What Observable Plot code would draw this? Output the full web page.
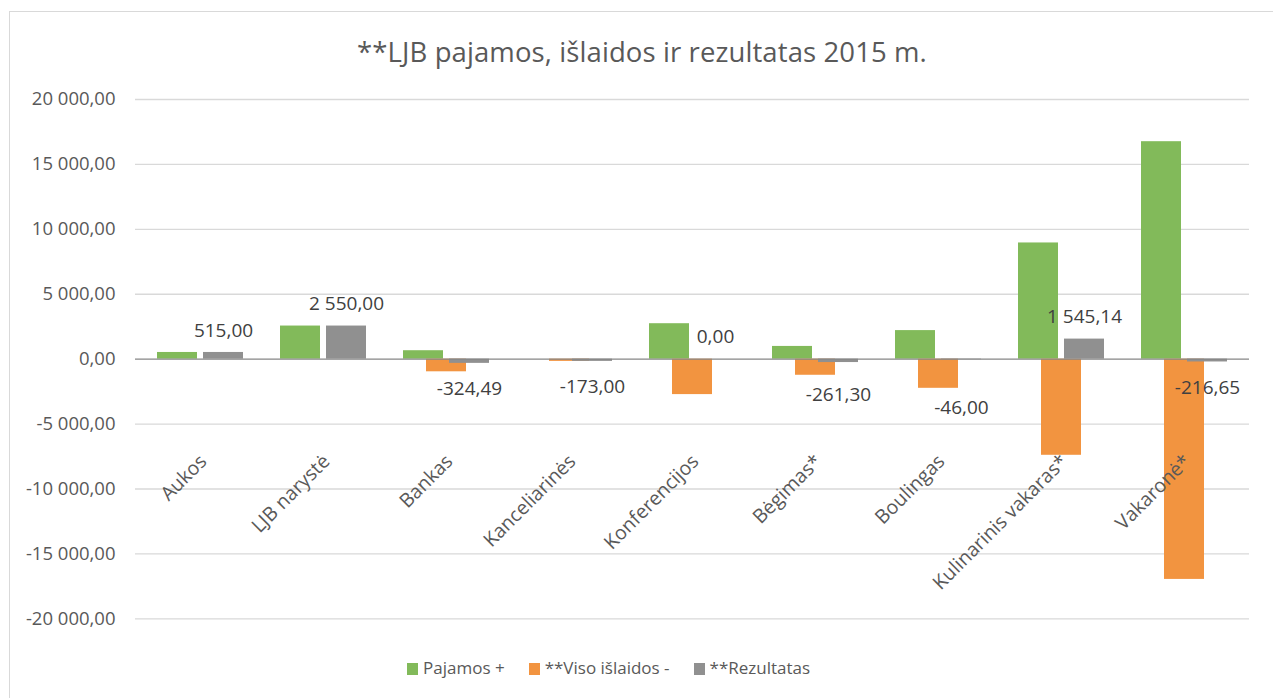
<!DOCTYPE html>
<html>
<head>
<meta charset="utf-8">
<script src="https://cdn.jsdelivr.net/npm/d3@7"></script>
<script src="https://cdn.jsdelivr.net/npm/@observablehq/plot@0.6"></script>
<style>
  html, body { margin: 0; padding: 0; background: #fff; }
  #page { position: relative; width: 1273px; height: 698px; overflow: hidden; font-family: "Open Sans", Lato, sans-serif; }
  #frame { position: absolute; left: 9px; top: 11px; width: 1300px; height: 720px; border-left: 1px solid #d9d9d9; border-top: 1px solid #d9d9d9; box-sizing: border-box; }
  #title { position: absolute; left: 9px; top: 35px; width: 1266px; text-align: center; font-size: 27.5px; line-height: 34px; color: #595959; letter-spacing: 0.1px; }
  #chart { position: absolute; left: 0; top: 80px; }
  #legend { position: absolute; left: 407px; top: 657px; height: 22px; line-height: 22px; font-size: 17px; color: #595959; white-space: nowrap; }
  #legend .item { display: inline-block; margin-right: 24px; }
  #legend .sw { display: inline-block; width: 11px; height: 12px; margin-right: 5px; vertical-align: -1px; }
</style>
</head>
<body>
<div id="page">
  <div id="frame"></div>
  <div id="title">**LJB pajamos, išlaidos ir rezultatas 2015 m.</div>
  <div id="chart"></div>
  <div id="legend"></div>
</div>
<script>
const categories = ["Aukos", "LJB narystė", "Bankas", "Kanceliarinės", "Konferencijos", "Bėgimas*", "Boulingas", "Kulinarinis vakaras*", "Vakaronė*"];
const pajamos = [515, 2550, 650, 0, 2730, 980, 2200, 8950, 16750];
const islaidos = [0, 0, -974.49, -173, -2730, -1241.30, -2246, -7404.86, -16966.65];
const rezultatas = [515, 2550, -324.49, -173, 0, -261.30, -46, 1545.14, -216.65];
const seriesNames = ["Pajamos +", "**Viso išlaidos -", "**Rezultatas"];
const yTicks = [-20000, -15000, -10000, -5000, 0, 5000, 10000, 15000, 20000];

const colors = ["#82ba5a", "#f29440", "#909090"];

const locale = d3.formatLocale({decimal: ",", thousands: "\u00a0", grouping: [3], currency: ["", ""], minus: "-"});
const fmt = locale.format(",.2f");

const rows = (vals) => categories.map((c, i) => ({cat: c, value: vals[i], exp: islaidos[i]}));
const pajRows = rows(pajamos);
const islRows = rows(islaidos);
const rezRows = rows(rezultatas);

// label placement groups (Excel moved labels that would collide with mid-size expense bars below them)
const midExpense = d => Math.abs(d.exp) > 1000 && Math.abs(d.exp) < 5000;
const posLabels = rezRows.filter(d => d.value >= 0);
const negNear = rezRows.filter(d => d.value < 0 && !midExpense(d));
const negBelow = rezRows.filter(d => d.value < 0 && midExpense(d));

const bandW = 40, step = 1114 / categories.length;
const pi = 1 - bandW / step;

const chart = Plot.plot({
  width: 1273,
  height: 560,
  marginTop: 19,
  marginBottom: 21.7,
  marginLeft: 135,
  marginRight: 24,
  style: {fontFamily: "'Open Sans', Lato, sans-serif", fontSize: "18px", color: "#595959", background: "transparent"},
  x: {type: "band", domain: categories, paddingInner: pi, paddingOuter: pi / 2, axis: null},
  y: {domain: [-20000, 20000], ticks: yTicks, tickFormat: fmt, tickSize: 0, tickPadding: 20, label: null},
  marks: [
    Plot.ruleY(yTicks.filter(d => d !== 0), {stroke: "#d9d9d9", strokeWidth: 1.3}),
    Plot.barY(pajRows, {x: "cat", y: "value", fill: colors[0], dx: -23}),
    Plot.barY(islRows, {x: "cat", y: "value", fill: colors[1], dx: 0}),
    Plot.barY(rezRows, {x: "cat", y: "value", fill: colors[2], dx: 23}),
    Plot.ruleY([0], {stroke: "#868686", strokeWidth: 1.4}),
    Plot.text(posLabels, {x: "cat", y: "value", text: d => fmt(d.value), dx: 23, dy: -22, fontSize: 19, fill: "#404040"}),
    Plot.text(negNear, {x: "cat", y: "value", text: d => fmt(d.value), dx: 23, dy: 26, fontSize: 19, fill: "#404040"}),
    Plot.text(negBelow, {x: "cat", y: "exp", text: d => fmt(d.value), dx: 23, dy: 20, fontSize: 19, fill: "#404040"}),
    Plot.text(categories, {x: d => d, y: d => 0, text: d => d, rotate: -45, textAnchor: "end", dx: 3, dy: 99, fontSize: 19.5, fill: "#595959"})
  ]
});
d3.select(chart).selectAll('[aria-label^="y-axis"], [aria-label^="y-axis"] text').attr("font-size", "18.5px").style("font-size", "18.5px");
document.getElementById("chart").appendChild(chart);

const legend = document.getElementById("legend");
seriesNames.forEach((name, i) => {
  const item = document.createElement("span");
  item.className = "item";
  const sw = document.createElement("span");
  sw.className = "sw";
  sw.style.background = colors[i];
  item.appendChild(sw);
  item.appendChild(document.createTextNode(name));
  legend.appendChild(item);
});
</script>
</body>
</html>
